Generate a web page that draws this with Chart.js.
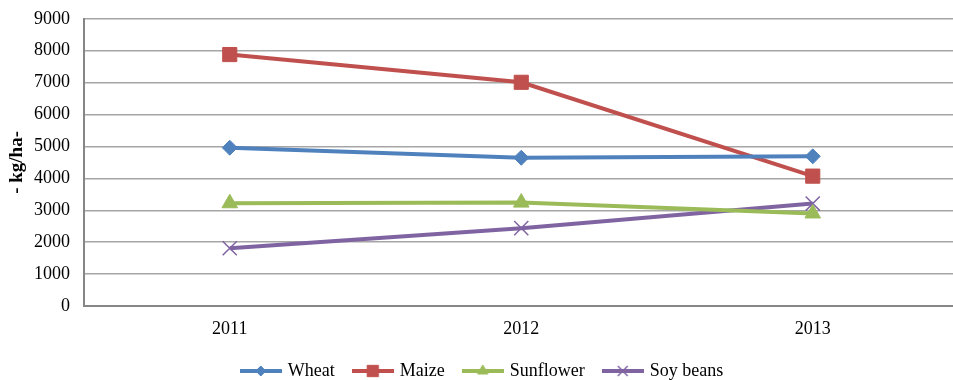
<!DOCTYPE html>
<html>
<head>
<meta charset="utf-8">
<script src="https://cdn.jsdelivr.net/npm/chart.js@4.4.1/dist/chart.umd.min.js"></script>
<style>
  html, body { margin: 0; padding: 0; background: #fff; overflow: hidden; width: 953px; height: 380px; }
  #wrap { width: 970px; height: 386px; position: relative; top: -6px; }
</style>
</head>
<body>
<div id="wrap"><canvas id="c" width="970" height="386"></canvas></div>
<script>
const categories = ['2011', '2012', '2013'];
const wheat = [4960, 4645, 4690];
const maize = [7880, 7010, 4070];
const sunflower = [3220, 3240, 2900];
const soyBeans = [1810, 2440, 3210];
const yTicks = [0, 1000, 2000, 3000, 4000, 5000, 6000, 7000, 8000, 9000];

const FONT = "'Liberation Serif', 'Times New Roman', serif";

const seriesDefs = [
  { label: 'Wheat', data: wheat, color: '#4F81BD', style: 'rectRot', radius: 7.5, lr: 5 },
  { label: 'Maize', data: maize, color: '#C0504D', style: 'rect', radius: 10, lr: 8 },
  { label: 'Sunflower', data: sunflower, color: '#9BBB59', style: 'triangle', radius: 9, lr: 6 },
  { label: 'Soy beans', data: soyBeans, color: '#8064A2', style: 'crossRot', radius: 10, lr: 7 }
];

function legendImage(def) {
  const cv = document.createElement('canvas');
  cv.width = 42; cv.height = 16;
  const ctx = cv.getContext('2d');
  ctx.strokeStyle = def.color;
  ctx.lineWidth = 4;
  ctx.beginPath(); ctx.moveTo(0, 8); ctx.lineTo(42, 8); ctx.stroke();
  ctx.fillStyle = def.color;
  ctx.strokeStyle = def.color;
  ctx.lineWidth = def.style === 'crossRot' ? 1.5 : 1;
  Chart.helpers.drawPoint(ctx, { pointStyle: def.style, radius: def.lr, rotation: 0, borderWidth: ctx.lineWidth }, 21, 8);
  return cv;
}

const legendImgs = seriesDefs.map(legendImage);

const datasets = seriesDefs.map(d => ({
  label: d.label,
  data: d.data,
  borderColor: d.color,
  backgroundColor: d.color,
  borderWidth: 4,
  pointStyle: d.style,
  pointRadius: d.radius,
  pointHoverRadius: d.radius,
  pointBorderWidth: d.style === 'crossRot' ? 1.5 : 1,
  pointBackgroundColor: d.color,
  pointBorderColor: d.color,
  tension: 0,
  fill: false
}));

new Chart(document.getElementById('c'), {
  type: 'line',
  data: { labels: categories, datasets },
  options: {
    responsive: false,
    animation: false,
    layout: { padding: { top: 1, right: 4, left: 0, bottom: 0 } },
    plugins: {
      tooltip: { enabled: false },
      legend: {
        position: 'bottom',
        maxHeight: 38,
        labels: {
          font: { family: FONT, size: 18 },
          color: '#000',
          usePointStyle: true,
          pointStyleWidth: 36,
          padding: 20,
          generateLabels(chart) {
            return chart.data.datasets.map((ds, i) => ({
              text: ds.label,
              pointStyle: legendImgs[i],
              fillStyle: ds.borderColor,
              strokeStyle: ds.borderColor,
              lineWidth: 0,
              hidden: false,
              datasetIndex: i,
              fontColor: '#000'
            }));
          }
        }
      }
    },
    scales: {
      x: {
        type: 'category',
        offset: true,
        grid: { display: false, drawTicks: false },
        border: { display: true, color: '#868686', width: 2 },
        ticks: { font: { family: FONT, size: 18 }, color: '#000', padding: 12 },
        afterFit(scale) { scale.height = 36; }
      },
      y: {
        min: 0,
        max: 9000,
        afterBuildTicks(scale) { scale.ticks = yTicks.map(v => ({ value: v })); },
        grid: { color: '#A6A6A6', lineWidth: 1.5, drawTicks: false },
        border: { display: true, color: '#868686', width: 2 },
        ticks: {
          font: { family: FONT, size: 18 },
          color: '#000',
          padding: 14,
          callback: (v) => String(v)
        },
        title: {
          display: true,
          text: '- kg/ha-',
          font: { family: FONT, size: 19, weight: 'bold' },
          color: '#000',
          padding: { top: 6, bottom: 0 }
        },
        afterFit(scale) { scale.width = 84; }
      }
    }
  }
});
</script>
</body>
</html>
